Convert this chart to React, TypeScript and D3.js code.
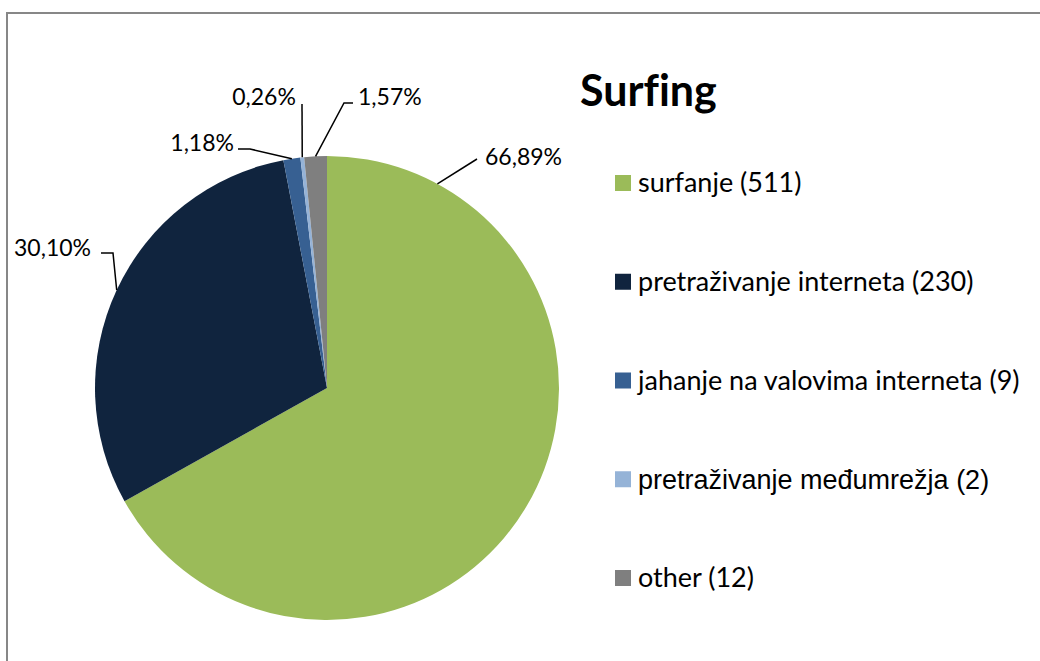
import React from 'react';
import * as d3 from 'd3';

// chart data
const categories = [
  'surfanje',
  'pretraživanje interneta',
  'jahanje na valovima interneta',
  'pretraživanje međumrežja',
  'other',
];
const counts = [511, 230, 9, 2, 12];
const percentLabels = ['66,89%', '30,10%', '1,18%', '0,26%', '1,57%'];
const colors = ['#9BBB59', '#10243E', '#376092', '#95B3D7', '#7F7F7F'];

// where each leader line touches its slice (fraction of the slice angle)
const attachFraction = [0.118, 0.5, 0.5, 0.5, 0.5];
// leader elbow + text position for each label
const labelLayout = [
  { ex: 477, ey: 159, hx: 477, tx: 485, ty: 157, anchor: 'start' },
  { ex: 113, ey: 253, hx: 101, tx: 91, ty: 248, anchor: 'end' },
  { ex: 250, ey: 149, hx: 238, tx: 234, ty: 143, anchor: 'end' },
  { ex: 302, ey: 104, hx: 302, tx: 264, ty: 97, anchor: 'middle' },
  { ex: 344, ey: 103, hx: 353, tx: 358, ty: 97, anchor: 'start' },
];

const W = 1040;
const H = 661;
const cx = 327;
const cy = 388;
const radius = 232;
const font = 'Lato, Carlito, Calibri, sans-serif';

export default function App() {
  const pie = d3.pie<number>().sort(null).value((d) => d);
  const arcs = pie(counts);
  const arc = d3.arc<d3.PieArcDatum<number>>().innerRadius(0).outerRadius(radius);

  const legendY = d3.scaleLinear().domain([0, categories.length - 1]).range([183, 578]);

  return (
    <svg width={W} height={H} style={{ position: 'absolute', left: 0, top: 0, background: '#fff', fontVariantLigatures: 'none' }}>
      <rect x={7} y={13} width={W + 50} height={H + 50} fill="#fff" stroke="#878787" strokeWidth={2} />
      <g transform={`translate(${cx},${cy})`}>
        {arcs.map((a, i) => (
          <path key={i} d={arc(a) || ''} fill={colors[i]} />
        ))}
      </g>
      {arcs.map((a, i) => {
        const ang = a.startAngle + (a.endAngle - a.startAngle) * attachFraction[i];
        const px = cx + Math.sin(ang) * radius;
        const py = cy - Math.cos(ang) * radius;
        const l = labelLayout[i];
        const pts: [number, number][] = [[px, py], [l.ex, l.ey], [l.hx, l.ey]];
        return (
          <g key={i}>
            <path d={d3.line()(pts) || ''} fill="none" stroke="#000" strokeWidth={1.5} />
            <text x={l.tx} y={l.ty} dy="0.35em" textAnchor={l.anchor as any}
              fontFamily={font} fontSize={23} fill="#000">{percentLabels[i]}</text>
          </g>
        );
      })}
      <text x={580} y={106} fontFamily={font} fontWeight="bold" fontSize={43} fill="#000">Surfing</text>
      {categories.map((c, i) => (
        <g key={c} transform={`translate(615,${legendY(i)})`}>
          <rect x={0} y={-8} width={16} height={16} fill={colors[i]} />
          <text x={23} y={0} dy="0.35em" fontFamily={i === 3 ? 'Liberation Sans, Arial, sans-serif' : font}
            fontSize={27} fill="#000">{`${c} (${counts[i]})`}</text>
        </g>
      ))}
    </svg>
  );
}
